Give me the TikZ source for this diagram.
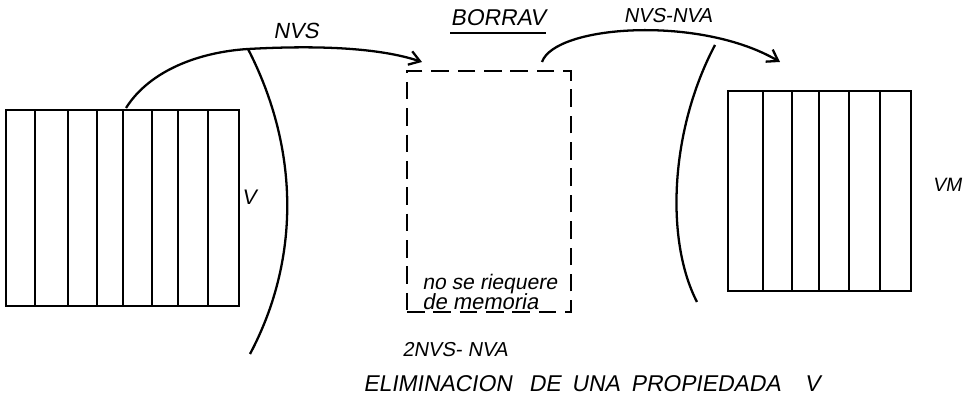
\documentclass[tikz,border=0pt]{standalone}
\usepackage{fontspec}
\usepackage{tikz}
\usetikzlibrary{arrows.meta}
\newfontfamily\handfont[FakeSlant=0.18]{Liberation Sans}
\tikzset{
  cellblock/.style={draw, line width=1.4pt, inner sep=0pt},
  holebox/.style={draw, line width=1.3pt, dash pattern=on 10pt off 5pt, inner sep=0pt},
  cellline/.style={line width=1.3pt},
  curve/.style={line width=1.3pt},
  flow/.style={line width=1.3pt, -{Straight Barb[length=6pt,width=8pt]}},
  hand/.style={font=\handfont\fontsize{11.5}{13}\selectfont, inner sep=0pt},
}

\begin{document}
\begin{tikzpicture}[x=0.02cm, y=-0.02cm]
  \useasboundingbox (0,0) rectangle (967,404);
  \node[cellblock, minimum width=4.66cm, minimum height=3.92cm] (vold) at (122.5,208) {};
  \node[cellblock, minimum width=3.66cm, minimum height=4.0cm] (vnew) at (819.5,191) {};
  \node[holebox, minimum width=3.28cm, minimum height=4.82cm] (borr) at (489,191.5) {};
  \coordinate (n1) at (126,108);
  \coordinate (n2) at (422,62);
  \coordinate (t1) at (248,49);
  \coordinate (t2) at (250,354);
  \coordinate (m1) at (542,62);
  \coordinate (m2) at (780,62);
  \coordinate (r1) at (715,45);
  \coordinate (r2) at (697,302);
  \draw[cellline] (35,110) -- (35,306);
  \draw[cellline] (68,110) -- (68,306);
  \draw[cellline] (97,110) -- (97,306);
  \draw[cellline] (123,110) -- (123,306);
  \draw[cellline] (152,110) -- (152,306);
  \draw[cellline] (178,110) -- (178,306);
  \draw[cellline] (208,110) -- (208,306);
  \draw[cellline] (763,91) -- (763,291);
  \draw[cellline] (792,91) -- (792,291);
  \draw[cellline] (819,91) -- (819,291);
  \draw[cellline] (849,91) -- (849,291);
  \draw[cellline] (880,91) -- (880,291);
  \draw[flow] (n1) .. controls (150,70) and (200,52) .. (t1)
    .. controls (320,45) and (380,48) .. (n2);
  \draw[curve] (t1) .. controls (300,150) and (300,260) .. (t2);
  \draw[flow] (m1) .. controls (555,25) and (700,15) .. (m2);
  \draw[curve] (r1) .. controls (670,130) and (665,240) .. (r2);
  \node[hand, font=\handfont\fontsize{12.5}{14}\selectfont] (nvs) at (296,31) {NVS};
  \node[hand, font=\handfont\fontsize{13}{15}\selectfont] (bor) at (498,18) {BORRAV};
  \draw[line width=1.1pt] ([yshift=-3.5pt]bor.south west) -- ([yshift=-3.5pt]bor.south east);
  \node[hand] (nvsnva) at (668,16) {NVS-NVA};
  \node[hand, font=\handfont\fontsize{12}{14}\selectfont] (vlab) at (249,197) {V};
  \node[hand, font=\handfont\fontsize{11}{13}\selectfont] (vmlab) at (947,185) {VM};
  \node[hand, anchor=west, font=\handfont\fontsize{12}{13}\selectfont] (req1) at (422,284) {no se riequere};
  \node[hand, anchor=west, font=\handfont\fontsize{12.5}{13}\selectfont] (req2) at (422,301.5) {de memoria};
  \node[hand] (cost) at (455,350) {2NVS- NVA};
  \node[hand, anchor=west, font=\handfont\fontsize{13}{15}\selectfont] (title) at (363,384)
    {ELIMINACION\hspace{0.34cm}DE\hspace{0.22cm}UNA\hspace{0.22cm}PROPIEDADA\hspace{0.48cm}V};
\end{tikzpicture}
\end{document}
